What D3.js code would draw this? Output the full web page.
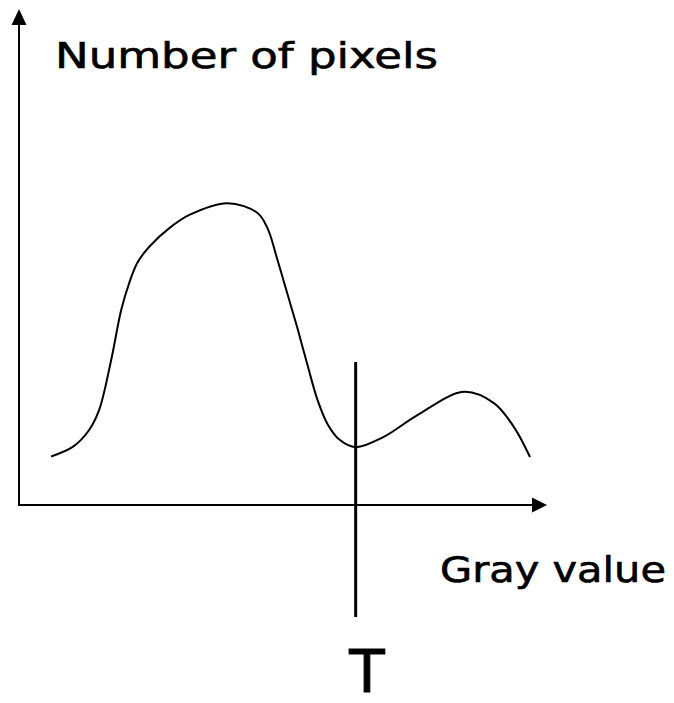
<!DOCTYPE html>
<html>
<head>
<meta charset="utf-8">
<script src="https://cdn.jsdelivr.net/npm/d3@7"></script>
<style>
  html, body { margin: 0; padding: 0; background: #fff; }
  svg { display: block; }
  text { font-family: "DejaVu Sans", sans-serif; fill: #000; }
</style>
</head>
<body>
<script>
// Histogram of gray values: sample points of the smooth curve
const grayValues = [16, 27, 35, 40, 46, 51, 55, 59, 65, 75, 85, 104, 119, 124, 129, 134, 139, 144, 149, 154, 160, 168, 182, 199, 222, 237, 247, 255];
const pixelCounts = [99, 119, 153, 194, 296, 398, 453, 494, 527, 565, 592, 616, 596, 565, 500, 430, 360, 285, 214, 165, 133, 118, 139, 184, 231, 208, 159, 98];
// Threshold separating the two modes
const thresholdValue = 168;
const thresholdLabel = "T";
const xAxisLabel = "Gray value";
const yAxisLabel = "Number of pixels";

const W = 674, H = 703;
const svg = d3.select("body").append("svg").attr("width", W).attr("height", H);

const x = d3.scaleLinear().domain([0, 255]).range([19, 530]);
const y = d3.scaleLinear().domain([0, 1000]).range([505, 15]);

const originX = x(0), originY = y(0);

// Axes with arrowheads
svg.append("line")
  .attr("x1", originX - 1).attr("y1", originY)
  .attr("x2", 534).attr("y2", originY)
  .attr("stroke", "#000").attr("stroke-width", 2.2);
svg.append("path")
  .attr("d", `M547,${originY} L532,${originY - 7.5} L532,${originY + 7.5} Z`)
  .attr("fill", "#000");

svg.append("line")
  .attr("x1", originX).attr("y1", originY + 1)
  .attr("x2", originX).attr("y2", 23)
  .attr("stroke", "#000").attr("stroke-width", 2);
svg.append("path")
  .attr("d", `M${originX},9 L${originX - 7.5},25 L${originX + 7.5},25 Z`)
  .attr("fill", "#000");

// Histogram curve
const pts = grayValues.map((g, i) => [g, pixelCounts[i]]);
const line = d3.line()
  .x(d => x(d[0]))
  .y(d => y(d[1]))
  .curve(d3.curveCatmullRom.alpha(0.5));
svg.append("path")
  .attr("d", line(pts))
  .attr("fill", "none")
  .attr("stroke", "#000")
  .attr("stroke-width", 2);

// Threshold line
const tx = x(thresholdValue);
svg.append("line")
  .attr("x1", tx).attr("y1", 362)
  .attr("x2", tx).attr("y2", 617)
  .attr("stroke", "#000").attr("stroke-width", 3);

// Labels
svg.append("text")
  .attr("x", 55).attr("y", 68)
  .attr("font-size", 35)
  .attr("stroke", "#000").attr("stroke-width", 0.6)
  .attr("textLength", 383)
  .attr("lengthAdjust", "spacingAndGlyphs")
  .text(yAxisLabel);

svg.append("text")
  .attr("x", 440).attr("y", 582)
  .attr("font-size", 35)
  .attr("stroke", "#000").attr("stroke-width", 0.6)
  .attr("textLength", 226)
  .attr("lengthAdjust", "spacingAndGlyphs")
  .text(xAxisLabel);

svg.append("text")
  .attr("x", 367).attr("y", 692)
  .attr("text-anchor", "middle")
  .attr("font-size", 58)
  .attr("stroke", "#000").attr("stroke-width", 1)
  .text(thresholdLabel);
</script>
</body>
</html>
